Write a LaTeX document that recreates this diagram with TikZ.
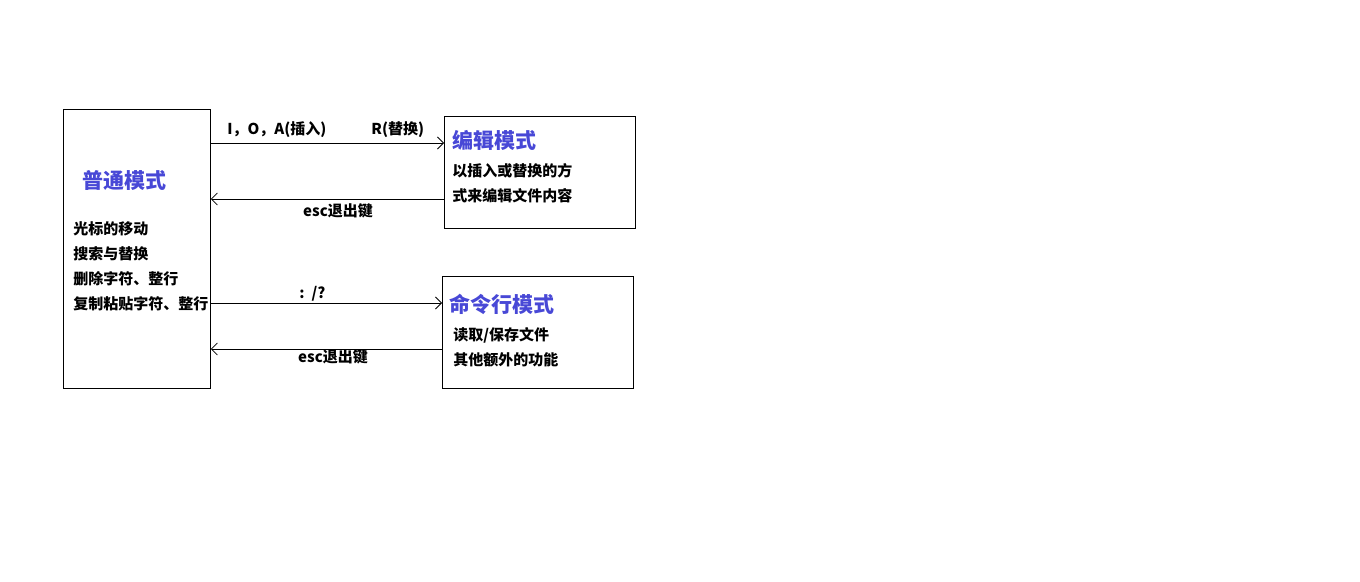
\documentclass[tikz,border=0pt]{standalone}
\usepackage{fontspec}
\setmainfont{Noto Sans CJK SC}
\usetikzlibrary{arrows.meta, positioning}
\definecolor{modeblue}{RGB}{72,72,214}

\begin{document}
\begin{tikzpicture}[x=1pt, y=-1pt, >={Straight Barb[length=6pt, width=12pt]}, line width=0.8pt, font=\bfseries]
    \tikzstyle{mode}=[draw=black, rectangle, anchor=north west, inner sep=0pt]
    \tikzstyle{title}=[anchor=west, text=modeblue, inner sep=0pt, font=\fontsize{21}{25}\bfseries\selectfont]
    \tikzstyle{item}=[anchor=west, inner sep=0pt, font=\fontsize{15}{18}\bfseries\selectfont]
    \tikzstyle{lbl}=[inner sep=0pt, font=\fontsize{15}{18}\bfseries\selectfont]

    \useasboundingbox (0,0) rectangle (1360,581);

    % the three boxes
    \node[mode, minimum width=147pt, minimum height=279pt] (normal) at (63,109) {};
    \node[mode, minimum width=191pt, minimum height=112pt] (edit) at (444,116) {};
    \node[mode, minimum width=191pt, minimum height=112pt] (cmd) at (442,276) {};

    \node[title] (tnormal) at (82,180) {普通模式};
    \node[item] at (73,229) {光标的移动};
    \node[item] at (73,254) {搜索与替换};
    \node[item] at (73,279) {删除字符、整行};
    \node[item] at (73,304) {复制粘贴字符、整行};

    \node[title] (tedit) at (452,140) {编辑模式};
    \node[item] at (452,171) {以插入或替换的方};
    \node[item] at (452,196) {式来编辑文件内容};

    \node[title] (tcmd) at (449,304) {命令行模式};
    \node[item] at (453,335) {读取/保存文件};
    \node[item] at (453,360) {其他额外的功能};

    % arrows between the modes
    \draw[->] (normal.east |- 0,143) -- (edit.west |- 0,143);
    \draw[->] (edit.west |- 0,199) -- (normal.east |- 0,199);
    \draw[->] (normal.east |- 0,303) -- (cmd.west |- 0,303);
    \draw[->] (cmd.west |- 0,349) -- (normal.east |- 0,349);

    \node[lbl, anchor=west] (ins) at (227,130) {I，O，A(插入)};
    \node[lbl, anchor=west] (rep) at (371,130) {R(替换)};
    \node[lbl] (esc1) at (338,211) {esc退出键};
    \node[lbl, anchor=west] (colon) at (299,294) {:\ \ /?};
    \node[lbl] (esc2) at (333,357) {esc退出键};
\end{tikzpicture}
\end{document}
